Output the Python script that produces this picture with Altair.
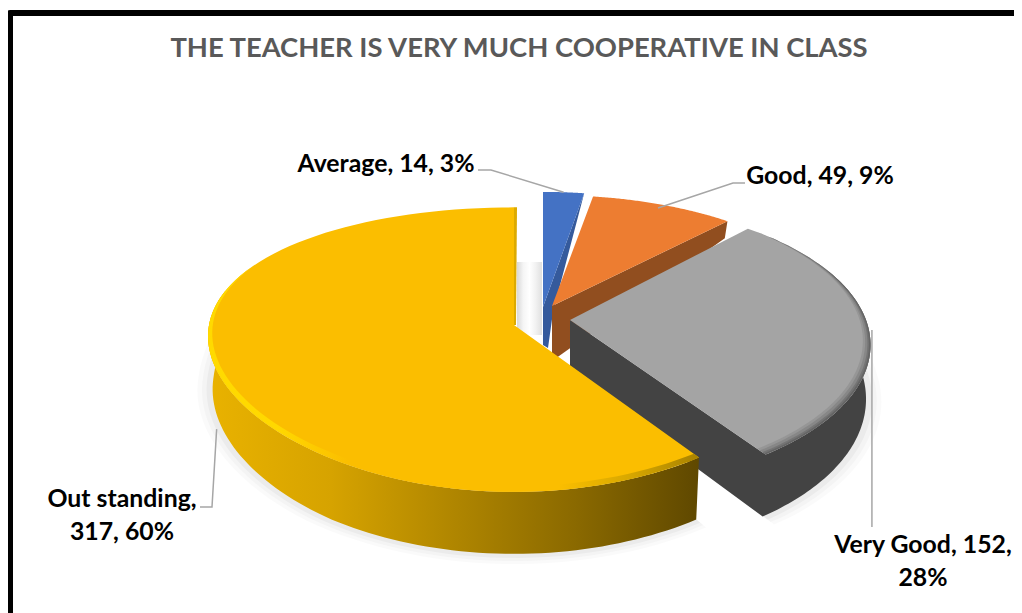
import numpy as np
import pandas as pd
import altair as alt

categories = ["Average", "Good", "Very Good", "Out standing"]
counts = [14, 49, 152, 317]
percents = [3, 9, 28, 60]

W, H = 1006, 605
total = sum(counts)
edges = np.cumsum([0] + counts) / total * 2 * np.pi
SX = alt.Scale(domain=[8, 8 + W], nice=False, zero=False)
SY = alt.Scale(domain=[8 + H, 8], nice=False, zero=False)

geom = [
    dict(ax=543, ay=307, rx=293, ry=135, kx=.173, ky=.173),
    dict(ax=552, ay=306, rx=292, ry=130, kx=.173, ky=.173),
    dict(ax=570, ay=320, rx=296, ry=140, kx=.173, ky=.173),
    dict(ax=514, ay=325, rx=305, ry=138, kx=.08, ky=.173),
]


def thick(y):
    return np.interp(y, [-1, -.82, 0, .74, 1], [62, 62, 52, 17, 10])


def rim(i, th, f=1.0, drop=False):
    g = geom[i]
    X, Y = np.sin(th) * f, np.cos(th) * f
    sx = g["rx"] * X / (1 + g["kx"] * Y)
    sy = g["ry"] * Y / (1 + g["ky"] * Y)
    if drop:
        return np.c_[g["ax"] + sx * .985, g["ay"] - sy + thick(Y)]
    return np.c_[g["ax"] + sx, g["ay"] - sy]


def apex(i, drop=0.0):
    return np.array([[geom[i]["ax"], geom[i]["ay"] + drop]])


def poly(pts, fill, opacity=1.0):
    df = pd.DataFrame({"x": pts[:, 0], "y": pts[:, 1], "i": np.arange(len(pts))})
    return alt.Chart(df).mark_line(
        filled=True, fill=fill, stroke=None, interpolate="linear-closed", opacity=opacity
    ).encode(
        x=alt.X("x:Q", scale=SX, axis=None),
        y=alt.Y("y:Q", scale=SY, axis=None),
        order="i:Q",
    )


def hgrad(stops):
    n = len(stops) - 1
    return alt.Gradient(
        gradient="linear", x1=0, y1=0, x2=1, y2=0,
        stops=[alt.GradientStop(offset=k / n, color=c) for k, c in enumerate(stops)],
    )


def arc(i, a=None, b=None, n=90):
    return np.linspace(edges[i] if a is None else a, edges[i + 1] if b is None else b, n)


def face(i):
    return np.vstack([apex(i), rim(i, arc(i))])


def band(i, a, b, width, pivot=.3):
    th = arc(i, a, b)
    f = 1 - width * np.clip((pivot - np.cos(th)) / (1 + pivot), 0, 1) ** .7
    outer = rim(i, th)
    g = geom[i]
    X, Y = np.sin(th) * f, np.cos(th) * f
    inner = np.c_[g["ax"] + g["rx"] * X / (1 + g["kx"] * Y), g["ay"] - g["ry"] * Y / (1 + g["ky"] * Y)]
    return np.vstack([outer, inner[::-1]])


layers = []

fr = pd.DataFrame({"x": [10, 10, 1040], "y": [640, 13, 13], "i": [0, 1, 2]})
layers.append(alt.Chart(fr).mark_line(color="black", strokeWidth=6, strokeJoin="round", clip=True).encode(
    x=alt.X("x:Q", scale=SX, axis=None), y=alt.Y("y:Q", scale=SY, axis=None), order="i:Q"))

for e, o in [(1.05, .04), (1.035, .05), (1.02, .07)]:
    for i in (2, 3):
        th = arc(i)
        p = rim(i, th, f=e, drop=True)
        layers.append(poly(np.vstack([apex(i, 40), p]), "#808080", o))

layers.append(poly(np.array([[517, 262], [542, 262], [542, 335], [517, 335]], float),
                   hgrad(["#d4d4d4", "#f4f4f4", "#ffffff", "#f0f0f0", "#dcdcdc"]), .9))

r0 = rim(0, np.array([edges[1]]))
layers.append(poly(np.vstack([apex(0), r0, apex(0, 5) + [10, 0], apex(0, 41) + [5, 0], apex(0, 38)]), "#355a9c"))
layers.append(poly(face(0), "#4472c4"))

r1 = rim(1, np.array([edges[2]]))
r1b = rim(1, np.array([edges[2]]), drop=True)
layers.append(poly(np.vstack([apex(1), r1, r1b, apex(1, 55)]), "#914e1f"))
layers.append(poly(face(1), "#ed7d31"))

wall_th = arc(2, edges[2] + .45, edges[3])
layers.append(poly(np.vstack([apex(2), rim(2, wall_th[::-1]), rim(2, wall_th, drop=True), apex(2, 55)]), "#434343"))
layers.append(poly(face(2), "#a4a4a4"))
for wd, op in [(.04, .15), (.028, .2), (.016, .3), (.008, .35)]:
    layers.append(poly(band(2, edges[2], edges[3], wd, pivot=.7), "#4a4a4a", op))

wall_th = arc(3, edges[3], np.radians(285))
layers.append(poly(np.vstack([rim(3, wall_th), rim(3, wall_th, drop=True)[::-1]]),
                   hgrad(["#e9b200", "#d6a300", "#b08600", "#8a6900", "#5f4800"])))
layers.append(poly(face(3), "#fbbe00"))
layers.append(poly(band(3, edges[3], np.radians(320), .028, pivot=.45),
                   hgrad(["#ffda00", "#ffd800", "#fbbe00", "#fbbe00", "#fbbe00", "#fbbe00", "#d8a800", "#a88200"])))
strip = np.array([[geom[3]["ax"], geom[3]["ay"]], rim(3, np.array([2 * np.pi]))[0],
                  rim(3, np.array([2 * np.pi]))[0] + [3, 0], [geom[3]["ax"] + 2, geom[3]["ay"]]])
layers.append(poly(strip, "#dcaa00"))

mid = (edges[:-1] + edges[1:]) / 2
anch = [rim(i, np.array([mid[i]]))[0] for i in range(4)]
leaders = [
    [[478, 170], [491, 170], anch[0] + [0, 0]],
    [[745, 183], [733, 183], anch[1] + [-5, 3]],
    [anch[2] + [3, 0], [anch[2][0] + 3, 527]],
    [[200, 507], [212, 507], anch[3] + [1, 61]],
]
for j, L in enumerate(leaders):
    a = np.array(L, dtype=float)
    d = pd.DataFrame({"x": a[:, 0], "y": a[:, 1], "i": np.arange(len(a))})
    layers.append(alt.Chart(d).mark_line(color="#a6a6a6", strokeWidth=1.5).encode(
        x=alt.X("x:Q", scale=SX, axis=None), y=alt.Y("y:Q", scale=SY, axis=None), order="i:Q"))

txt = [f"{c}, {n}, {p}%" for c, n, p in zip(categories, counts, percents)]
lab = pd.DataFrame({
    "t": [txt[0], txt[1], f"{categories[2]}, {counts[2]},\n{percents[2]}%", f"{categories[3]},\n{counts[3]}, {percents[3]}%"],
    "x": [386, 820, 923, 122],
    "y": [165, 177, 546, 500],
})
layers.append(alt.Chart(lab).mark_text(
    font="Lato", fontWeight="bold", fontSize=24.8, color="black", align="center",
    baseline="middle", lineBreak="\n", lineHeight=33,
).encode(x=alt.X("x:Q", scale=SX, axis=None), y=alt.Y("y:Q", scale=SY, axis=None), text="t:N"))

title = pd.DataFrame({"t": ["THE TEACHER IS VERY MUCH COOPERATIVE IN CLASS"], "x": [519], "y": [49]})
layers.append(alt.Chart(title).mark_text(
    font="Lato", fontWeight="bold", fontSize=27.4, color="#595959", align="center", baseline="middle",
).encode(x=alt.X("x:Q", scale=SX, axis=None), y=alt.Y("y:Q", scale=SY, axis=None), text="t:N"))

chart = alt.layer(*layers).properties(
    width=W, height=H, padding=0, background="white",
    autosize=alt.AutoSizeParams(type="none"),
).configure_view(stroke=None)

chart.save("out.html", embed_options={"renderer": "svg", "actions": False})
